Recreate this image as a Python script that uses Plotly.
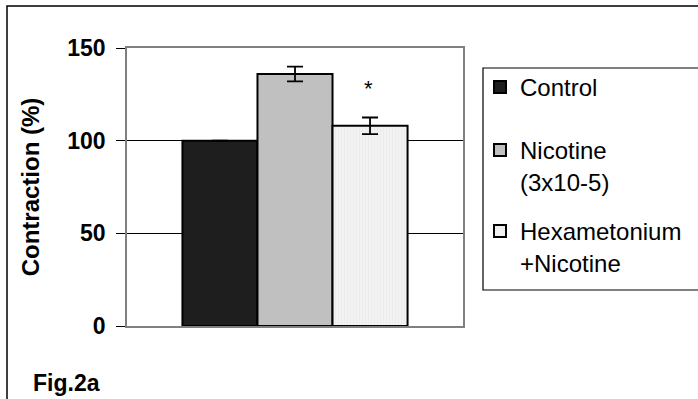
import plotly.graph_objects as go

# ---- data ----
groups = ["Control", "Nicotine<br>(3x10-5)", "Hexametonium<br>+Nicotine"]
values = [100, 136, 108]
errors = [0, 4, 4.5]
fills = ["#1e1e1e", "#c0c0c0", "#f2f2f2"]
y_ticks = [0, 50, 100, 150]
y_title = "Contraction (%)"
fig_label = "Fig.2a"
signif = "*"

W, H = 698, 399
L, R, T, B = 127, 235, 48, 73
pw, ph = W - L - R, H - T - B


def px(x):
    return (x - L) / pw


def py(y):
    return (H - B - y) / ph


FONT = "Arial, Liberation Sans, sans-serif"
bargap = 0.33

fig = go.Figure()
legend_names = ["legend", "legend2", "legend3"]
for i, (g, v, e, c) in enumerate(zip(groups, values, errors, fills)):
    marker = dict(color=c, line=dict(color="black", width=2))
    if i == 2:
        marker["pattern"] = dict(shape="|", fgcolor="#dcdcdc", bgcolor=c, size=3, solidity=0.2)
    fig.add_trace(go.Bar(
        x=["g"], y=[v], name=g, marker=marker,
        error_y=dict(type="data", array=[e], visible=True, color="black", thickness=1.8, width=8),
        legend=legend_names[i],
    ))

bar_w = (1 - bargap) / 3

leg_common = dict(xanchor="left", yanchor="top", bgcolor="rgba(0,0,0,0)", borderwidth=0,
                  font=dict(family=FONT, size=24, color="black"), valign="top")

fig.update_layout(
    width=W, height=H,
    margin=dict(l=L, r=R, t=T, b=B, autoexpand=False),
    paper_bgcolor="white", plot_bgcolor="white",
    barmode="group", bargap=bargap, bargroupgap=0,
    font=dict(family=FONT, color="black"),
    xaxis=dict(showticklabels=False, ticks="", showgrid=False, zeroline=False,
               showline=True, linecolor="#808080", linewidth=1.5, mirror=True),
    yaxis=dict(range=[0, 150], tickvals=y_ticks, ticks="outside", ticklen=9,
               tickcolor="black", tickwidth=1, showgrid=True, gridcolor="black",
               gridwidth=1, zeroline=False, showline=True, linecolor="#808080",
               linewidth=1.5, mirror=True,
               tickfont=dict(family=FONT, size=23, color="black", weight="bold"),
               ticklabelstandoff=6,
               title=dict(text=y_title, standoff=21,
                          font=dict(family=FONT, size=24, color="black", weight="bold"))),
    legend=dict(x=px(480), y=py(65), **leg_common),
    legend2=dict(x=px(480), y=py(128), **leg_common),
    legend3=dict(x=px(480), y=py(209), **leg_common),
    showlegend=True,
)

# outer frame and legend box
fig.add_shape(type="rect", xref="paper", yref="paper",
              x0=px(7), x1=px(720), y0=py(420), y1=py(6),
              line=dict(color="black", width=1.5), layer="below")
fig.add_shape(type="rect", xref="paper", yref="paper",
              x0=px(483), x1=px(720), y0=py(290), y1=py(68),
              line=dict(color="black", width=1.2))

# significance mark above third bar
fig.add_annotation(x=bar_w, xref="x", y=128, yref="y", text=signif, showarrow=False,
                   xshift=-2, font=dict(family=FONT, size=22, color="black"))

# figure label
fig.add_annotation(x=px(31), y=py(383), xref="paper", yref="paper", xanchor="left",
                   yanchor="middle", text=fig_label, showarrow=False,
                   font=dict(family=FONT, size=23, color="black", weight="bold"))

fig.write_html("out.html", config={"displayModeBar": False},
               post_script="document.body.style.margin='0';document.body.style.padding='0';")
